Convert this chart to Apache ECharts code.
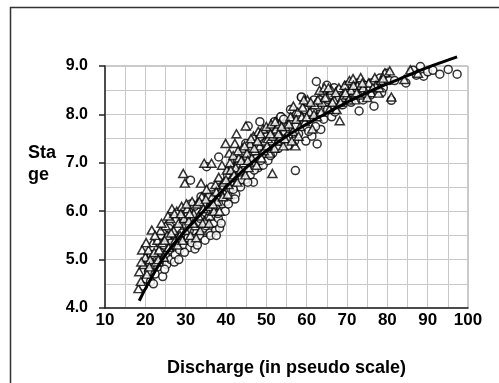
<!DOCTYPE html>
<html><head><meta charset="utf-8">
<script src="https://cdn.jsdelivr.net/npm/echarts@6/dist/echarts.min.js"></script>
<style>html,body{margin:0;padding:0;background:#fff}#c{width:499px;height:383px}</style>
</head><body><div id="c"></div>
<script>
const xTicks = [10,20,30,40,50,60,70,80,90,100];
const yTicks = [4.0,5.0,6.0,7.0,8.0,9.0];
const circles = [
[19.5,4.45],[20.2,4.6],[20.8,4.75],[21.3,4.55],[21.9,4.9],[22.4,4.7],[22.8,5.05],[23.1,4.85],[23.6,5.15],[24.0,4.95],[24.3,4.65],[24.6,5.3],[25.0,5.1],[25.3,4.9],[25.6,5.45],[26.0,5.2],[26.3,5.0],[26.7,5.55],[27.0,5.3],[27.4,5.1],[27.8,5.65],[28.1,5.4],[28.5,5.2],[28.8,5.85],[29.1,5.55],[29.5,5.3],[29.9,6.0],[30.2,5.7],[30.6,5.45],[31.0,5.25],[31.3,6.15],[31.7,5.85],[32.0,5.6],[32.3,5.22],[32.7,6.0],[33.0,5.75],[33.4,5.5],[33.8,6.3],[34.1,5.95],[34.5,5.65],[34.8,5.4],[35.2,6.2],[35.6,5.85],[36.0,5.55],[36.3,6.4],[36.7,6.05],[37.0,5.75],[37.4,5.6],[37.8,6.25],[38.1,5.85],[38.4,5.65],[38.7,6.5],[39.1,6.15],[39.5,6.35],[40.0,6.2],[40.4,6.75],[40.8,6.45],[41.2,6.3],[41.6,6.9],[42.0,6.6],[42.4,6.35],[42.8,7.05],[43.2,6.75],[43.6,6.5],[44.0,7.2],[44.4,6.9],[44.8,6.65],[45.2,7.35],[45.6,7.0],[46.0,6.75],[46.4,7.2],[46.8,6.6],[47.2,7.45],[47.6,7.1],[48.0,6.9],[48.4,7.5],[48.8,7.25],[49.2,6.95],[49.6,7.6],[50.0,7.3],[50.4,7.05],[50.8,7.7],[51.2,7.45],[51.6,7.2],[52.0,7.85],[52.5,7.55],[53.0,7.3],[53.6,7.95],[54.0,7.65],[54.5,7.4],[55.0,7.8],[55.5,7.55],[56.0,8.1],[56.5,7.7],[57.0,7.45],[57.5,8.0],[58.0,7.6],[58.7,8.35],[59.2,7.85],[59.8,7.45],[60.3,8.2],[60.8,7.9],[61.3,7.55],[61.8,8.3],[62.4,8.68],[62.6,7.39],[63.0,8.0],[63.5,7.69],[64.0,8.45],[64.5,8.2],[65.0,8.6],[65.5,8.3],[66.2,7.95],[66.8,8.55],[67.3,8.25],[68.0,8.5],[68.6,8.2],[69.2,8.4],[70.0,8.6],[70.6,8.35],[71.3,8.55],[72.0,8.4],[72.7,8.65],[73.0,8.07],[73.6,8.45],[74.3,8.6],[75.0,8.5],[75.8,8.4],[76.7,8.17],[77.4,8.6],[78.2,8.75],[79.0,8.55],[79.8,8.85],[80.5,8.7],[81.0,8.29],[81.8,8.7],[84.6,8.65],[86.4,8.91],[87.2,8.81],[88.2,8.99],[89.0,8.79],[90.0,8.88],[91.3,8.91],[93.0,8.83],[95.1,8.93],[97.3,8.83],
[31.2,6.64],[35.2,6.92],[36.4,6.5],[38.2,7.12],[44.9,7.4],[45.5,7.76],[48.4,7.85],[57.2,6.84],[53.6,7.95],[58.7,8.36],
[20.5,4.95],[21.5,5.1],[22.0,4.5],[23.3,5.35],[24.8,4.8],[25.8,5.65],[26.5,5.35],[27.2,4.95],[27.6,5.8],[28.3,5.0],[29.3,5.9],[29.7,5.15],[30.4,5.9],[30.9,5.6],[31.5,5.35],[32.2,6.1],[32.9,5.3],[33.6,5.85],[34.3,6.15],[35.0,5.7],[35.8,6.3],[36.2,5.5],[37.2,6.2],[37.6,5.5],[38.0,5.95],[38.8,5.75],[39.3,6.5],[39.8,6.0],[40.6,6.15],[41.0,6.6],[41.8,6.45],[42.2,6.25],[43.0,6.95],[43.8,6.65],[44.6,7.05],[45.4,6.6],[46.2,7.3],[47.0,6.85],[47.8,7.3],[48.6,7.05],[49.4,7.4],[50.2,7.55],[51.0,7.15],[51.8,7.6],[52.8,7.75],[53.3,7.45],[54.3,7.9],[55.3,7.35],[56.2,7.85],[57.3,7.75],[58.3,7.95],[59.5,8.1],[60.5,7.65],[61.5,8.05],[62.2,7.75],[63.3,8.3],[64.2,7.9],[65.2,8.1],[66.0,8.4],[67.0,8.05],[67.8,8.3],[69.0,8.2],[69.8,8.45],[71.0,8.25],[72.3,8.55],[74.0,8.3],[76.0,8.65],[78.6,8.45]
];
const triangles = [
[18.3,4.4],[18.5,4.75],[18.9,4.55],[19.2,5.2],[19.6,4.9],[20.0,5.05],[20.4,4.7],[20.8,5.2],[21.2,5.0],[21.6,5.61],[21.8,5.35],[22.2,5.15],[22.6,4.95],[23.0,5.4],[23.4,5.2],[23.8,5.6],[24.2,5.35],[24.6,5.05],[25.0,5.7],[25.4,5.5],[25.8,5.25],[26.2,5.85],[26.6,6.05],[27.0,5.6],[27.4,5.4],[27.8,6.0],[28.2,5.75],[28.6,5.5],[29.0,6.1],[29.4,6.78],[29.8,6.58],[29.6,5.85],[30.0,5.6],[30.4,6.05],[30.8,5.8],[31.2,5.5],[31.6,6.2],[32.0,5.95],[32.4,5.7],[32.8,6.15],[33.2,5.9],[33.8,6.58],[33.6,5.6],[34.0,6.3],[34.6,6.99],[34.4,6.05],[34.8,5.8],[35.2,6.45],[35.6,6.1],[36.0,5.9],[36.4,6.99],[36.6,6.3],[37.0,6.0],[37.4,6.55],[37.8,6.2],[38.2,6.7],[38.6,6.4],[39.0,6.95],[39.4,6.6],[39.9,7.4],[40.2,6.85],[40.8,7.2],[40.6,6.55],[41.0,7.0],[41.4,6.7],[41.8,7.15],[42.2,7.4],[42.6,7.6],[42.4,6.9],[42.8,6.6],[43.2,7.1],[43.6,6.85],[44.0,7.3],[44.4,7.0],[44.9,7.76],[44.8,6.75],[45.2,7.2],[45.6,6.9],[46.0,7.4],[46.4,7.1],[46.8,7.55],[47.2,7.25],[47.6,6.95],[48.0,7.65],[48.4,7.35],[48.8,7.1],[49.2,7.7],[49.6,7.45],[50.0,7.75],[50.4,7.5],[50.8,7.2],[51.5,6.78],[51.2,7.8],[51.6,7.55],[52.0,7.3],[52.4,7.7],[52.8,7.45],[53.2,7.8],[53.6,7.55],[54.2,7.35],[54.8,7.75],[55.4,7.5],[56.0,7.95],[56.7,8.17],[56.6,7.65],[57.2,7.35],[57.8,8.05],[58.4,7.75],[59.0,8.15],[59.6,7.85],[60.2,8.3],[60.8,8.05],[61.4,7.7],[62.0,8.2],[62.6,7.95],[63.2,8.5],[63.8,8.25],[64.4,8.55],[65.0,8.35],[65.6,8.1],[66.2,8.5],[66.8,8.3],[67.4,8.1],[68.0,8.55],[68.2,7.87],[68.8,8.35],[69.4,8.6],[70.0,8.4],[70.6,8.7],[71.5,8.74],[71.0,8.5],[72.0,8.3],[72.6,8.6],[73.4,8.76],[73.2,8.4],[74.0,8.55],[74.8,8.44],[75.4,8.65],[76.0,8.45],[76.9,8.76],[77.8,8.44],[77.2,8.6],[78.4,8.7],[79.4,8.86],[80.6,8.9],[81.0,8.36],[84.2,8.72],[85.7,8.92],[87.6,8.85],
[19.0,4.95],[20.2,5.35],[21.0,4.85],[22.4,5.5],[23.2,5.0],[24.0,5.75],[24.8,5.4],[25.6,5.9],[26.4,5.55],[27.2,5.95],[28.0,5.3],[28.8,5.95],[29.2,5.4],[30.2,6.15],[31.0,5.95],[31.8,5.75],[32.6,5.45],[33.4,6.2],[34.2,5.75],[35.0,6.25],[35.8,5.75],[36.8,6.15],[37.6,6.4],[38.4,6.0],[39.2,6.3],[40.0,6.65],[40.4,6.35],[41.2,6.85],[42.0,6.75],[43.0,7.25],[43.8,7.05],[44.6,7.35],[45.4,7.05],[46.2,7.5],[47.0,7.3],[47.8,7.45],[48.6,7.6],[49.4,7.25],[50.2,7.35],[51.0,7.6],[52.2,7.85],[53.0,7.6],[53.8,7.75],[54.6,7.5],[55.6,7.8],[56.3,7.45],[57.4,7.9],[58.0,7.55],[58.8,7.95],[59.3,8.3],[60.0,7.95],[61.0,8.25],[61.8,8.0],[62.8,8.3],[63.6,8.05],[64.6,8.35],[65.4,8.55],[66.4,8.25],[67.2,8.45],[68.4,8.25],[69.6,8.45],[70.4,8.3],[71.6,8.6],[72.4,8.45],[73.8,8.65],[75.0,8.35],[76.4,8.55],[78.0,8.55],[79.0,8.75]
];
const curve = [
[18.5,4.15],[21,4.55],[25,5.1],[30,5.6],[35,6.05],[40,6.5],[45,6.9],[50,7.25],[55,7.55],[60,7.8],[65,8.03],[70,8.25],[75,8.45],[80,8.63],[85,8.8],[90,8.97],[95,9.12],[97.3,9.19]
];

const chart = echarts.init(document.getElementById('c'), null, {renderer:'canvas'});
const F = 'Liberation Sans, Arial, sans-serif';
chart.setOption({
  animation:false,
  backgroundColor:'#fff',
  grid:{left:105,right:31,top:66,bottom:75,show:true,borderColor:'#999',borderWidth:1},
  xAxis:{type:'value',min:10,max:100,interval:10,
    name:'Discharge (in pseudo scale)',nameLocation:'middle',nameGap:51,
    nameTextStyle:{fontFamily:F,fontWeight:'bold',fontSize:18,color:'#000'},
    axisLine:{show:true,lineStyle:{color:'#222',width:1.5}},
    axisTick:{show:false},
    axisLabel:{fontFamily:F,fontWeight:'bold',fontSize:17,color:'#000',margin:4,
      formatter:v=>xTicks.includes(v)?String(v):''},
    splitLine:{show:true,lineStyle:{color:'#c8c8c8',width:1}},
    minorTick:{show:false,splitNumber:2},
    minorSplitLine:{show:true,lineStyle:{color:'#c8c8c8',width:1}}
  },
  yAxis:{type:'value',min:4,max:9,interval:1,
    axisLine:{show:true,lineStyle:{color:'#222',width:1.5}},
    axisTick:{show:true,inside:false,length:6,lineStyle:{color:'#222',width:1.5}},
    axisLabel:{fontFamily:F,fontWeight:'bold',fontSize:16,color:'#000',margin:17,
      formatter:v=>v.toFixed(1)},
    splitLine:{show:true,lineStyle:{color:'#c8c8c8',width:1}},
    minorTick:{show:false,splitNumber:2},
    minorSplitLine:{show:true,lineStyle:{color:'#c8c8c8',width:1}}
  },
  graphic:[
    {type:'polyline',shape:{points:[[10.5,383],[10.5,7.5],[499,7.5]]},style:{stroke:'#333',lineWidth:1.5,fill:null},silent:true},
    {type:'text',left:28,top:142,style:{text:'Sta\nge',font:'bold 18px '+F,fill:'#000',lineHeight:22}}
  ],
  series:[
    {type:'scatter',name:'circles',data:circles,symbol:'circle',symbolSize:8,
      itemStyle:{color:'#fff',borderColor:'#000',borderWidth:1.5},z:2},
    {type:'scatter',name:'triangles',data:triangles,symbol:'triangle',symbolSize:[9,8],
      itemStyle:{color:'#fff',borderColor:'#000',borderWidth:1.5},z:3},
    {type:'line',data:curve,smooth:true,symbol:'none',clip:false,
      lineStyle:{color:'#000',width:3},z:4}
  ]
});
</script></body></html>
